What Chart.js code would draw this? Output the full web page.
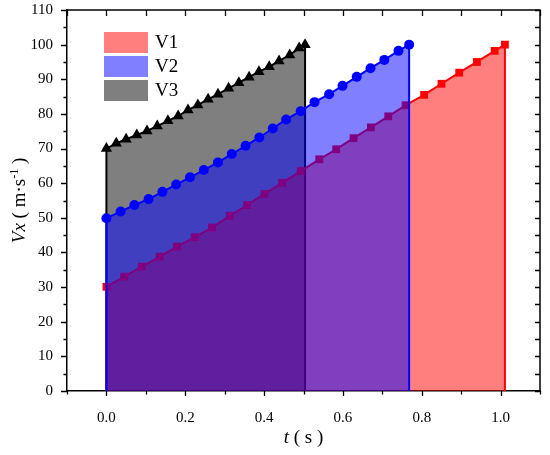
<!DOCTYPE html>
<html>
<head>
<meta charset="utf-8">
<script src="https://cdn.jsdelivr.net/npm/chart.js@4.4.1/dist/chart.umd.min.js"></script>
<style>
  html, body { margin: 0; padding: 0; background: #fff; }
</style>
</head>
<body>
<canvas id="myChart" width="550" height="455"></canvas>
<script>
// values
let seriesNames = ['V1', 'V2', 'V3']

let t1 = [0, 0.045, 0.090, 0.135, 0.179, 0.224, 0.268, 0.313, 0.357, 0.401, 0.446, 0.493,
          0.540, 0.583, 0.627, 0.671, 0.715, 0.759, 0.806, 0.850, 0.895, 0.940, 0.985, 1.011]
let v1 = [30.1, 33.0, 35.9, 38.8, 41.7, 44.4, 47.2, 50.6, 53.7, 56.9, 60.1, 63.5,
          66.9, 69.8, 73.0, 76.1, 79.3, 82.5, 85.5, 88.7, 91.9, 95.0, 98.2, 100.0]

let t2 = [0, 0.036, 0.071, 0.107, 0.142, 0.177, 0.212, 0.247, 0.283, 0.318, 0.353, 0.388,
          0.422, 0.456, 0.493, 0.528, 0.565, 0.599, 0.635, 0.670, 0.705, 0.741, 0.768]
let v2 = [49.9, 51.8, 53.7, 55.4, 57.5, 59.6, 61.7, 63.8, 66.0, 68.4, 70.8, 73.2,
          75.8, 78.4, 80.8, 83.4, 85.7, 88.1, 90.7, 93.2, 95.6, 98.2, 100.0]

let t3 = [0, 0.025, 0.050, 0.077, 0.103, 0.129, 0.156, 0.182, 0.207, 0.232, 0.258,
          0.283, 0.310, 0.336, 0.362, 0.387, 0.413, 0.438, 0.465, 0.489, 0.504]
let v3 = [70.0, 71.5, 72.7, 73.9, 75.1, 76.5, 78.0, 79.4, 81.1, 82.6, 84.2,
          85.7, 87.4, 89.0, 90.6, 92.2, 93.6, 95.3, 97.0, 99.0, 100.0]

let xMin = -0.1, xMax = 1.1, xStep = 0.1
let yMin = 0, yMax = 110, yStep = 10

let lineColors = ['#FF0000', '#0000FF', '#000000']
let fillColors = ['rgba(255,0,0,0.5)', 'rgba(0,0,255,0.5)', 'rgba(0,0,0,0.5)']
let markers = ['rect', 'circle', 'triangle']
let markerSize = [5.5, 5, 6.5]
let drawOrder = [2, 1, 3]   // gray first, then red, blue on top

const serif = '"Liberation Serif", "Times New Roman", serif'

// each curve drops to zero at both ends so the filled area has vertical edges
function toPoints(ts, vs) {
    let pts = ts.map((t, i) => ({ x: t, y: vs[i] }))
    pts.unshift({ x: ts[0], y: 0 })
    pts.push({ x: ts[ts.length - 1], y: 0 })
    return pts
}
function radii(n, r) {
    let a = new Array(n + 2).fill(r)
    a[0] = 0
    a[n + 1] = 0
    return a
}

let allT = [t1, t2, t3]
let allV = [v1, v2, v3]
let datasets = seriesNames.map((name, i) => ({
    label: name,
    data: toPoints(allT[i], allV[i]),
    borderColor: lineColors[i],
    backgroundColor: fillColors[i],
    pointBackgroundColor: lineColors[i],
    pointBorderColor: lineColors[i],
    pointBorderWidth: 0,
    pointStyle: markers[i],
    pointRadius: radii(allT[i].length, markerSize[i]),
    borderWidth: 2,
    fill: 'origin',
    tension: 0,
    order: drawOrder[i],
}))

// frame, tick marks, axis titles and the legend box
let decor = {
    id: 'decor',
    afterDraw(chart) {
        let ctx = chart.ctx
        let a = chart.chartArea
        let xs = chart.scales.x, ys = chart.scales.y
        ctx.save()
        ctx.strokeStyle = '#000'
        ctx.lineWidth = 1.5
        ctx.beginPath()
        ctx.moveTo(a.left, a.top); ctx.lineTo(a.right, a.top); ctx.lineTo(a.right, a.bottom)
        ctx.stroke()

        ctx.lineWidth = 1.3
        ctx.beginPath()
        let nx = Math.round((xMax - xMin) / xStep)
        for (let k = 0; k <= nx; k++) {
            let px = Math.round(xs.getPixelForValue(xMin + k * xStep)) + 0.5
            let major = Math.round((xMin + k * xStep) * 10) % 2 === 0
            ctx.moveTo(px, a.bottom); ctx.lineTo(px, a.bottom + (major ? 5 : 3.5))
            ctx.moveTo(px, a.top); ctx.lineTo(px, a.top + 6)
        }
        let ny = Math.round((yMax - yMin) / (yStep / 2))
        for (let k = 0; k <= ny; k++) {
            let py = Math.round(ys.getPixelForValue(yMin + k * yStep / 2)) + 0.5
            ctx.moveTo(a.left - (k % 2 === 0 ? 6 : 3.5), py); ctx.lineTo(a.left, py)
            ctx.moveTo(a.right - 5, py); ctx.lineTo(a.right, py)
        }
        ctx.stroke()

        // axis titles
        ctx.fillStyle = '#000'
        ctx.textBaseline = 'alphabetic'
        ctx.textAlign = 'left'
        let it = 'italic 19px ' + serif, rg = '19px ' + serif, sm = '12px ' + serif
        ctx.font = it
        let wT = ctx.measureText('t').width
        ctx.font = rg
        let wS = ctx.measureText(' ( s )').width
        let cx = (a.left + a.right) / 2 - (wT + wS) / 2
        ctx.font = it; ctx.fillText('t', cx, 443)
        ctx.font = rg; ctx.fillText(' ( s )', cx + wT, 443)

        let parts = [['Vx', it, 0], [' ( m\u00b7s', rg, 0], ['-1', sm, -7], [' )', rg, 0]]
        let total = 0
        parts.forEach(p => { ctx.font = p[1]; p.push(ctx.measureText(p[0]).width); total += p[3] })
        ctx.save()
        ctx.translate(25, (a.top + a.bottom) / 2)
        ctx.rotate(-Math.PI / 2)
        let px = -total / 2
        parts.forEach(p => { ctx.font = p[1]; ctx.fillText(p[0], px, p[2]); px += p[3] })
        ctx.restore()

        // legend
        ctx.textBaseline = 'middle'
        ctx.font = '19px ' + serif
        chart.data.datasets.forEach((ds, i) => {
            let bx = a.left + 37, by = a.top + 22 + i * 24
            ctx.fillStyle = ds.backgroundColor
            ctx.fillRect(bx, by, 44, 21)
            ctx.fillStyle = '#000'
            ctx.fillText(ds.label, bx + 51, by + 11)
        })
        ctx.restore()
    }
}

let myChart = new Chart(document.getElementById('myChart').getContext('2d'), {
    type: 'line',
    data: { datasets: datasets },
    options: {
        responsive: false,
        animation: false,
        layout: { padding: { top: 10, right: 10, left: 0, bottom: 0 } },
        plugins: { legend: { display: false }, tooltip: { enabled: false } },
        scales: {
            x: {
                type: 'linear',
                min: xMin,
                max: xMax,
                ticks: {
                    stepSize: xStep,
                    autoSkip: false,
                    maxRotation: 0,
                    padding: 10,
                    color: '#000',
                    font: { family: serif, size: 15 },
                    callback: v => {
                        let k = Math.round(v * 10)
                        return (k % 2 === 0 && k >= 0 && k <= 10) ? (k / 10).toFixed(1) : ''
                    },
                },
                grid: { display: false },
                border: { display: true, color: '#000', width: 1.5 },
                afterFit: s => { s.height = 64; s.paddingLeft = 0; s.paddingRight = 0 },
            },
            y: {
                min: yMin,
                max: yMax,
                ticks: {
                    stepSize: yStep,
                    padding: 6,
                    color: '#000',
                    font: { family: serif, size: 15 },
                },
                grid: { display: false },
                border: { display: true, color: '#000', width: 1.5 },
                afterFit: s => { s.width = 67; s.paddingTop = 0; s.paddingBottom = 0 },
            },
        },
    },
    plugins: [decor],
})
</script>
</body>
</html>
